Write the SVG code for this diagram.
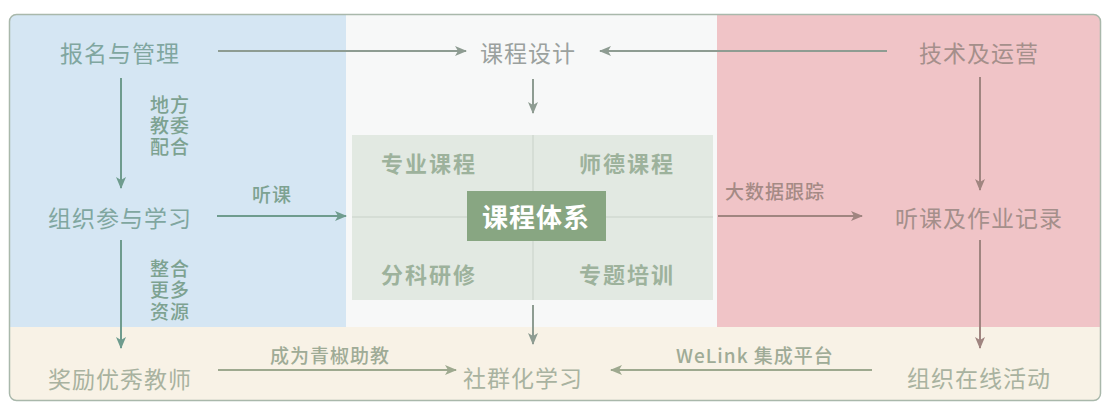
<svg xmlns="http://www.w3.org/2000/svg" width="1103" height="403" viewBox="0 0 1103 403">
  <defs>
    <clipPath id="frameClip"><rect x="9.5" y="14.5" width="1091" height="386" rx="7"/></clipPath>
    <marker id="mBlue" viewBox="0 0 12 10" refX="11" refY="5" markerWidth="12" markerHeight="10" markerUnits="userSpaceOnUse" orient="auto"><path d="M0,0 L12,5 L0,10 L3,5 Z" fill="#6f9c8e"/></marker>
    <marker id="mGray" viewBox="0 0 12 10" refX="11" refY="5" markerWidth="12" markerHeight="10" markerUnits="userSpaceOnUse" orient="auto"><path d="M0,0 L12,5 L0,10 L3,5 Z" fill="#8e9c92"/></marker>
    <marker id="mPink" viewBox="0 0 12 10" refX="11" refY="5" markerWidth="12" markerHeight="10" markerUnits="userSpaceOnUse" orient="auto"><path d="M0,0 L12,5 L0,10 L3,5 Z" fill="#a08580"/></marker>
    <marker id="mBeige" viewBox="0 0 12 10" refX="11" refY="5" markerWidth="12" markerHeight="10" markerUnits="userSpaceOnUse" orient="auto"><path d="M0,0 L12,5 L0,10 L3,5 Z" fill="#9ea98f"/></marker>
  </defs>
  <style>
    text { font-family: "Noto Sans CJK SC", "Noto Sans", sans-serif; dominant-baseline: central; }
    .main { font-size: 23px; letter-spacing: 1px; }
    .lbl { font-size: 19px; font-weight: 500; letter-spacing: 1px; }
    .grid { font-size: 22px; font-weight: 700; letter-spacing: 2px; fill: #9db29c; }
    .blueT { fill: #80a6a0; }
    .grayT { fill: #9ba19e; }
    .pinkT { fill: #a58f8b; }
    .beigeT { fill: #a9b2a0; }
    .lblBlue { fill: #7da291; }
    .lblPink { fill: #a58a85; }
    .lblBeige { fill: #9fab96; }
    .aBlue { stroke: #6f9c8e; stroke-width: 2; fill: none; marker-end: url(#mBlue); }
    .aGray { stroke: #8e9c92; stroke-width: 2; fill: none; marker-end: url(#mGray); }
    .aPink { stroke: #a08580; stroke-width: 2; fill: none; marker-end: url(#mPink); }
    .aBeige { stroke: #9ea98f; stroke-width: 2; fill: none; marker-end: url(#mBeige); }
  </style>
  <rect x="0" y="0" width="1103" height="403" fill="#ffffff"/>
  <g id="background" clip-path="url(#frameClip)">
    <rect x="9" y="14" width="337" height="313" fill="#d5e6f3"/>
    <rect x="346" y="14" width="371" height="313" fill="#f7f8f8"/>
    <rect x="717" y="14" width="384" height="313" fill="#f0c4c7"/>
    <rect x="9" y="327" width="1092" height="75" fill="#f8f2e6"/>
  </g>
  <rect x="9.5" y="14.5" width="1091" height="386" rx="7" fill="none" stroke="#a9b8ab" stroke-width="1.5"/>

  <g id="course-system">
    <rect x="352" y="135" width="361" height="165" fill="#e2e9e2"/>
    <line x1="533" y1="135" x2="533" y2="300" stroke="#d0d8d0" stroke-width="1.5"/>
    <line x1="352" y1="217" x2="713" y2="217" stroke="#d0d8d0" stroke-width="1.5"/>
    <rect x="467" y="191" width="139" height="50" fill="#88a682"/>
    <text x="536" y="215" text-anchor="middle" font-size="26" font-weight="700" fill="#ffffff" letter-spacing="1">课程体系</text>
    <text class="grid" x="381" y="162">专业课程</text>
    <text class="grid" x="579" y="162">师德课程</text>
    <text class="grid" x="381" y="273">分科研修</text>
    <text class="grid" x="579" y="273">专题培训</text>
  </g>

  <g id="connectors">
    <line class="aGray" x1="218" y1="51" x2="466" y2="51"/>
    <line class="aGray" x1="887" y1="51" x2="600" y2="51"/>
    <line class="aGray" x1="533" y1="79" x2="533" y2="113"/>
    <line class="aBlue" x1="121" y1="78" x2="121" y2="188"/>
    <line class="aBlue" x1="217" y1="216" x2="346" y2="216"/>
    <line class="aBlue" x1="121" y1="240" x2="121" y2="348"/>
    <line class="aPink" x1="718" y1="216" x2="862" y2="216"/>
    <line class="aPink" x1="980" y1="77" x2="980" y2="190"/>
    <line class="aPink" x1="980" y1="240" x2="980" y2="348"/>
    <line class="aGray" x1="533" y1="305" x2="533" y2="344"/>
    <line class="aBeige" x1="218" y1="370" x2="456" y2="370"/>
    <line class="aBeige" x1="872" y1="370" x2="611" y2="370"/>
    <text class="lbl lblBlue" x="150" y="103"><tspan x="150" y="103">地方</tspan><tspan x="150" y="124">教委</tspan><tspan x="150" y="145">配合</tspan></text>
    <text class="lbl lblBlue" x="252" y="193" font-size="20" letter-spacing="3">听课</text>
    <text class="lbl lblBlue" x="150" y="267"><tspan x="150" y="267">整合</tspan><tspan x="150" y="288">更多</tspan><tspan x="150" y="310">资源</tspan></text>
    <text class="lbl lblPink" x="725" y="190" font-weight="400" font-size="19" letter-spacing="1.5">大数据跟踪</text>
    <text class="lbl lblBeige" x="270" y="354" font-weight="400" font-size="19" letter-spacing="1.5">成为青椒助教</text>
    <text class="lbl lblBeige" x="676" y="354" font-weight="400" font-size="19" letter-spacing="0.5">WeLink 集成平台</text>
  </g>

  <g id="node-signup"><text class="main blueT" x="60" y="52">报名与管理</text></g>
  <g id="node-design"><text class="main grayT" x="480" y="52">课程设计</text></g>
  <g id="node-tech"><text class="main pinkT" x="919" y="52">技术及运营</text></g>
  <g id="node-organize"><text class="main blueT" x="48" y="217">组织参与学习</text></g>
  <g id="node-record"><text class="main pinkT" x="895" y="217">听课及作业记录</text></g>
  <g id="node-reward"><text class="main beigeT" x="48" y="378">奖励优秀教师</text></g>
  <g id="node-community"><text class="main beigeT" x="463" y="377">社群化学习</text></g>
  <g id="node-online"><text class="main beigeT" x="907" y="377">组织在线活动</text></g>
</svg>
